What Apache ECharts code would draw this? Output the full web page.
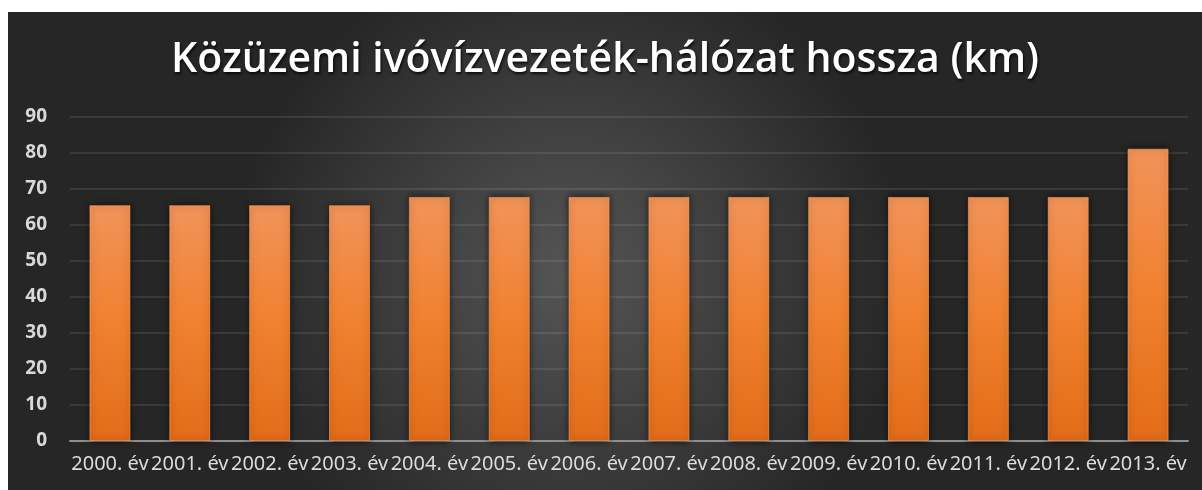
<!DOCTYPE html>
<html>
<head>
<meta charset="utf-8">
<script src="https://cdn.jsdelivr.net/npm/echarts@6/dist/echarts.min.js"></script>
<style>
  html, body { margin: 0; padding: 0; background: #ffffff; }
  #chart { position: absolute; left: 8px; top: 12px; width: 1194px; height: 478px; }
</style>
</head>
<body>
<div id="chart"></div>
<script>
// Network length per year (km)
const years = ['2000. év', '2001. év', '2002. év', '2003. év', '2004. év', '2005. év', '2006. év',
               '2007. év', '2008. év', '2009. év', '2010. év', '2011. év', '2012. év', '2013. év'];
const lengthKm = [65.5, 65.5, 65.5, 65.5, 67.8, 67.8, 67.8, 67.8, 67.8, 67.8, 67.8, 67.8, 67.8, 81.2];
const yTicks = { min: 0, max: 90, interval: 10 };
const titleText = 'Közüzemi ivóvízvezeték-hálózat hossza (km)';

const chart = echarts.init(document.getElementById('chart'));
chart.setOption({
  backgroundColor: {
    type: 'radial', x: 0.47, y: 0.55, r: 0.7,
    colorStops: [
      { offset: 0, color: '#555555' },
      { offset: 1, color: '#262626' }
    ]
  },
  title: {
    text: titleText,
    left: 'center',
    top: 23,
    textStyle: {
      color: '#ffffff',
      fontFamily: 'Open Sans',
      fontWeight: 600,
      fontSize: 41,
      textShadowColor: 'rgba(0,0,0,0.8)',
      textShadowBlur: 3,
      textShadowOffsetX: 1,
      textShadowOffsetY: 2
    }
  },
  grid: { left: 62, right: 14, top: 105, bottom: 49 },
  xAxis: {
    type: 'category',
    data: years,
    axisLine: { lineStyle: { color: '#8f8f8f', width: 2 } },
    axisTick: { show: false },
    axisLabel: {
      color: '#dcdcdc',
      fontFamily: 'Noto Sans',
      fontSize: 20,
      margin: 13,
      interval: 0
    }
  },
  yAxis: {
    type: 'value',
    min: yTicks.min,
    max: yTicks.max,
    interval: yTicks.interval,
    axisLine: { show: false },
    axisTick: { show: false },
    splitLine: { lineStyle: { color: 'rgba(255,255,255,0.09)', width: 2 } },
    axisLabel: {
      color: '#d9d9d9',
      fontFamily: 'Noto Sans',
      fontWeight: 'bold',
      fontSize: 19,
      margin: 23
    }
  },
  series: [{
    type: 'bar',
    data: lengthKm,
    barWidth: 41,
    itemStyle: {
      color: {
        type: 'linear', x: 0, y: 0, x2: 0, y2: 1,
        colorStops: [
          { offset: 0, color: '#f2935a' },
          { offset: 0.5, color: '#f0812f' },
          { offset: 1, color: '#e36c19' }
        ]
      },
      borderColor: 'rgba(255,160,90,0.6)',
      borderWidth: 1,
      shadowColor: 'rgba(0,0,0,0.7)',
      shadowBlur: 7,
      shadowOffsetX: 0,
      shadowOffsetY: 0
    }
  }],
  animation: false
});
</script>
</body>
</html>
